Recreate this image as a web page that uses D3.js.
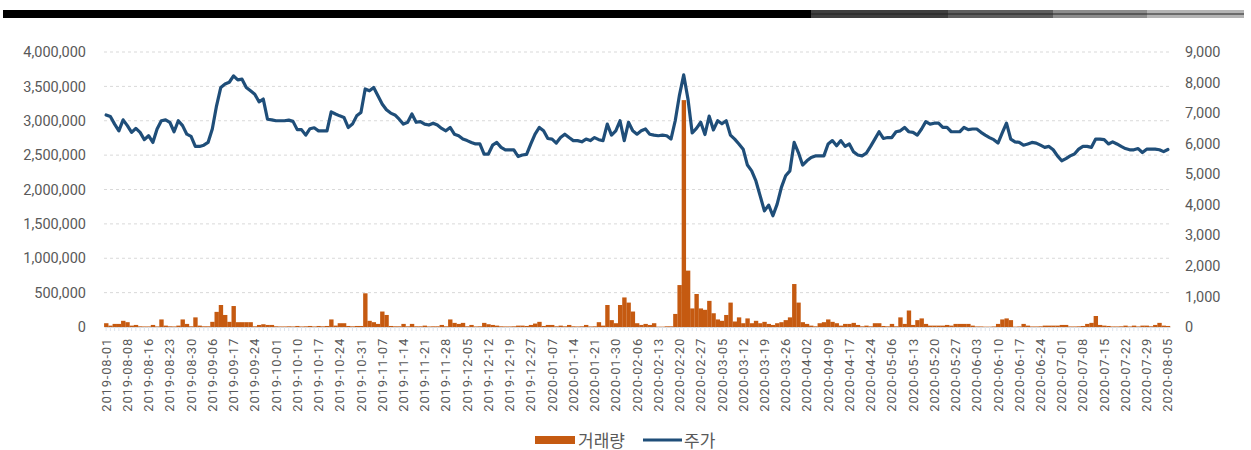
<!DOCTYPE html>
<html>
<head>
<meta charset="utf-8">
<script src="https://cdn.jsdelivr.net/npm/d3@7"></script>
<style>
  body { margin: 0; background: #fff; }
  svg text { font-family: Roboto, "Noto Sans CJK KR", sans-serif; fill: #595959; }
</style>
</head>
<body>
<svg width="1251" height="450"></svg>
<script>
const tickLabels = [
  "2019-08-01","2019-08-08","2019-08-16","2019-08-23","2019-08-30","2019-09-06","2019-09-17","2019-09-24",
  "2019-10-01","2019-10-10","2019-10-17","2019-10-24","2019-10-31","2019-11-07","2019-11-14","2019-11-21",
  "2019-11-28","2019-12-05","2019-12-12","2019-12-19","2019-12-27","2020-01-07","2020-01-14","2020-01-21",
  "2020-01-30","2020-02-06","2020-02-13","2020-02-20","2020-02-27","2020-03-05","2020-03-12","2020-03-19",
  "2020-03-26","2020-04-02","2020-04-09","2020-04-17","2020-04-24","2020-05-06","2020-05-13","2020-05-20",
  "2020-05-27","2020-06-03","2020-06-10","2020-06-17","2020-06-24","2020-07-01","2020-07-08","2020-07-15",
  "2020-07-22","2020-07-29","2020-08-05"
]
const labelEvery = 5

// 주가 (right axis), one value per trading day
const price = [
  6940,6890,6640,6420,6780,6590,6370,6500,6370,6130,
  6260,6040,6480,6750,6780,6700,6390,6750,6590,6310,
  6240,5910,5910,5950,6040,6480,7240,7840,7950,8010,
  8220,8090,8110,7840,7730,7620,7370,7460,6800,6780,
  6750,6750,6750,6770,6730,6460,6460,6280,6490,6520,
  6420,6420,6420,7040,6970,6910,6860,6530,6640,6910,
  7020,7790,7730,7840,7570,7300,7110,7000,6940,6800,
  6640,6700,6970,6700,6720,6640,6610,6670,6610,6500,
  6420,6530,6310,6260,6150,6100,6040,5990,5990,5660,
  5660,5950,6040,5880,5800,5800,5800,5580,5630,5650,
  5990,6310,6530,6420,6170,6150,6020,6200,6310,6200,
  6100,6100,6060,6150,6100,6200,6130,6100,6640,6280,
  6420,6750,6100,6700,6420,6310,6420,6480,6310,6280,
  6260,6280,6260,6150,6750,7590,8250,7460,6350,6500,
  6700,6300,6900,6450,6750,6650,6750,6280,6150,5990,
  5820,5300,5110,4780,4290,3800,3990,3640,4020,4570,
  4950,5110,6040,5710,5300,5440,5550,5600,5600,5600,
  5990,6100,5930,6100,5910,5990,5730,5630,5600,5690,
  5910,6150,6390,6170,6200,6200,6390,6420,6530,6390,
  6370,6280,6480,6720,6640,6670,6670,6530,6530,6390,
  6390,6390,6530,6460,6480,6480,6370,6280,6200,6130,
  6020,6350,6670,6150,6060,6040,5950,5990,6040,6020,
  5950,5880,5910,5800,5600,5440,5510,5600,5660,5820,
  5910,5910,5880,6150,6150,6130,5990,6060,5990,5910,
  5840,5800,5800,5840,5710,5820,5820,5820,5800,5740,
  5810
]

// 거래량 (left axis)
const volume = [
  55000,20000,45000,45000,90000,70000,20000,30000,10000,8000,
  8000,30000,8000,110000,20000,10000,8000,20000,110000,45000,
  10000,140000,20000,10000,10000,75000,220000,320000,175000,75000,
  305000,70000,70000,70000,70000,10000,30000,40000,30000,30000,
  10000,8000,8000,10000,8000,15000,8000,10000,15000,8000,
  15000,10000,15000,110000,20000,55000,55000,15000,10000,15000,
  15000,490000,90000,70000,45000,225000,175000,15000,10000,10000,
  45000,10000,45000,10000,10000,20000,8000,10000,10000,30000,
  10000,110000,60000,45000,60000,10000,30000,8000,10000,60000,
  40000,30000,20000,10000,8000,8000,10000,20000,20000,15000,
  30000,50000,75000,15000,30000,30000,10000,20000,10000,30000,
  10000,8000,10000,30000,8000,10000,70000,20000,320000,100000,
  55000,320000,430000,355000,225000,55000,30000,45000,30000,55000,
  5000,5000,10000,10000,190000,610000,3300000,820000,270000,480000,
  270000,250000,380000,200000,110000,90000,175000,355000,80000,140000,
  55000,125000,55000,90000,55000,75000,45000,30000,55000,70000,
  100000,140000,625000,355000,70000,45000,20000,10000,55000,70000,
  110000,75000,55000,20000,45000,45000,60000,30000,10000,20000,
  10000,55000,55000,15000,10000,45000,10000,140000,45000,240000,
  30000,100000,125000,45000,20000,20000,20000,20000,30000,20000,
  45000,45000,45000,45000,20000,8000,8000,5000,5000,8000,
  45000,110000,125000,100000,5000,8000,45000,20000,8000,8000,
  10000,20000,20000,20000,20000,30000,30000,8000,8000,10000,
  15000,45000,60000,160000,30000,20000,15000,8000,8000,10000,
  20000,8000,20000,8000,20000,20000,10000,30000,60000,20000,
  15000
]

const volumeTicks = [0, 500000, 1000000, 1500000, 2000000, 2500000, 3000000, 3500000, 4000000]
const priceTicks = [0, 1000, 2000, 3000, 4000, 5000, 6000, 7000, 8000, 9000]
const legendNames = ["거래량", "주가"]

const plot = { left: 104, right: 1170, top: 52, bottom: 327 }
const orange = "#C55A11"
const navy = "#1F4E79"

const svg = d3.select("svg")

// top decorative bar
const topBar = [
  { x0: 3, x1: 811, c: "#000000" },
  { x0: 811, x1: 948, c: "#3f3f3f" },
  { x0: 948, x1: 1053, c: "#5e5e5e" },
  { x0: 1053, x1: 1147, c: "#8c8c8c" },
  { x0: 1147, x1: 1244, c: "#b4b4b4" }
]
svg.selectAll(".topbar").data(topBar).join("rect")
  .attr("x", d => d.x0).attr("y", 10)
  .attr("width", d => d.x1 - d.x0).attr("height", 8)
  .attr("fill", d => d.c)
svg.append("line")
  .attr("x1", 811).attr("x2", 1244).attr("y1", 14).attr("y2", 14)
  .attr("stroke", "#222").attr("stroke-width", 1)

let idx = d3.range(price.length)
let x_scale = d3.scaleBand(idx, [plot.left, plot.right]).paddingInner(0.04).paddingOuter(0.02)
let y_vol = d3.scaleLinear([0, 4000000], [plot.bottom, plot.top])
let y_price = d3.scaleLinear([0, 9000], [plot.bottom, plot.top])

// gridlines
svg.append("g")
  .selectAll("line").data(volumeTicks.slice(1)).join("line")
  .attr("x1", plot.left).attr("x2", plot.right)
  .attr("y1", d => y_vol(d)).attr("y2", d => y_vol(d))
  .attr("stroke", "#d9d9d9").attr("stroke-width", 1)
  .attr("stroke-dasharray", "3,3")

// left axis
let left_axis = svg.append("g")
  .attr("transform", `translate(${plot.left},0)`)
  .call(d3.axisLeft(y_vol).tickValues(volumeTicks).tickFormat(d3.format(",")).tickSize(0).tickPadding(18))
left_axis.select(".domain").remove()
left_axis.selectAll("text").style("font-size", "14.5px").style("fill", "#595959")

// right axis
let right_axis = svg.append("g")
  .attr("transform", `translate(${plot.right},0)`)
  .call(d3.axisRight(y_price).tickValues(priceTicks).tickFormat(d3.format(",")).tickSize(0).tickPadding(15))
right_axis.select(".domain").remove()
right_axis.selectAll("text").style("font-size", "14.5px").style("fill", "#595959")

// bottom axis
let bottom_axis = svg.append("g")
  .attr("transform", `translate(0,${plot.bottom})`)
  .call(d3.axisBottom(x_scale)
    .tickValues(idx)
    .tickFormat(i => i % labelEvery === 0 ? tickLabels[i / labelEvery] : "")
    .tickSize(4).tickSizeOuter(0))
bottom_axis.select(".domain").attr("stroke", "#d9d9d9")
bottom_axis.selectAll(".tick line").attr("stroke", "#dde3ec")
bottom_axis.selectAll("text")
  .attr("transform", "rotate(-90)")
  .attr("text-anchor", "end")
  .attr("x", -11).attr("y", 0).attr("dy", "0.35em")
  .style("font-size", "13px")
  .style("letter-spacing", "0.8px")
  .style("fill", "#595959")

// volume bars
svg.append("g")
  .selectAll("rect").data(volume).join("rect")
  .attr("x", (d, i) => x_scale(i))
  .attr("y", d => y_vol(d))
  .attr("width", x_scale.bandwidth() + 0.3)
  .attr("height", d => plot.bottom - y_vol(d))
  .attr("fill", orange)

// price line
let line = d3.line()
  .x((d, i) => x_scale(i) + x_scale.bandwidth() / 2)
  .y(d => y_price(d))
svg.append("path")
  .attr("d", line(price))
  .attr("fill", "none")
  .attr("stroke", navy)
  .attr("stroke-width", 3.2)
  .attr("stroke-linejoin", "round")
  .attr("stroke-linecap", "round")

// legend
let legend = svg.append("g")
legend.append("rect")
  .attr("x", 535).attr("y", 436).attr("width", 40).attr("height", 8)
  .attr("fill", orange)
legend.append("text")
  .attr("x", 578).attr("y", 447)
  .style("font-size", "17px")
  .text(legendNames[0])
legend.append("line")
  .attr("x1", 643).attr("x2", 682).attr("y1", 440).attr("y2", 440)
  .attr("stroke", navy).attr("stroke-width", 3)
legend.append("text")
  .attr("x", 684).attr("y", 447)
  .style("font-size", "17px")
  .text(legendNames[1])
</script>
</body>
</html>
